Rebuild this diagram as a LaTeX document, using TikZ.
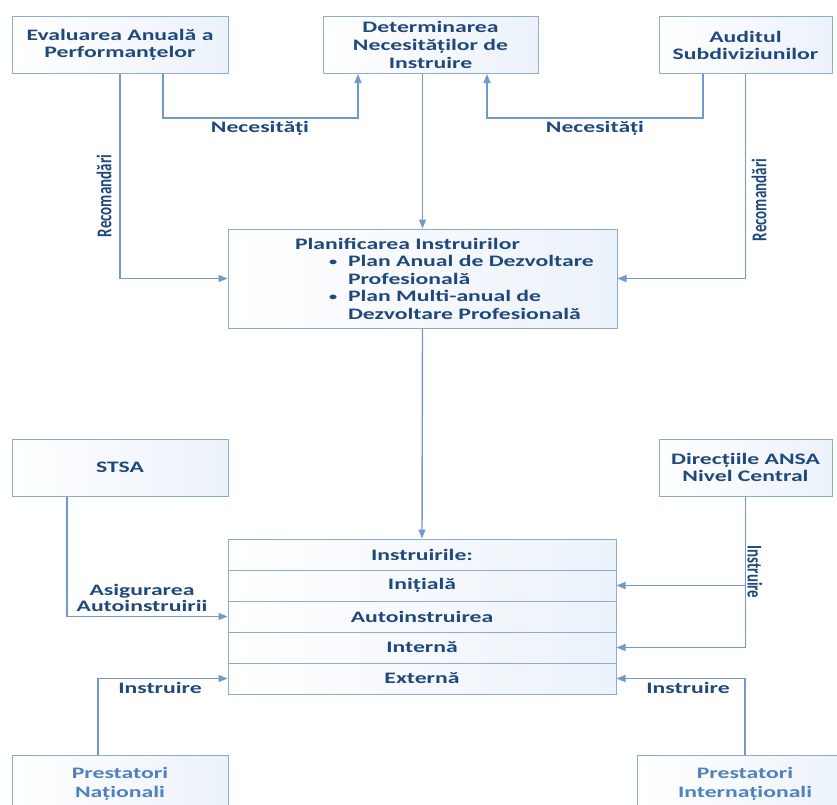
\documentclass[tikz,border=0pt]{standalone}
\usepackage{fontspec}
\setmainfont[FakeStretch=1.48]{Carlito}
\newfontfamily\narrowfont{Carlito}
\usetikzlibrary{arrows.meta}
\definecolor{txtblue}{RGB}{31,73,125}
\definecolor{litblue}{RGB}{79,129,189}
\definecolor{linblue}{RGB}{112,154,204}
\definecolor{boxline}{RGB}{140,172,208}
\definecolor{boxfill}{RGB}{236,242,250}
\newcommand{\planbul}{\makebox[19pt][l]{\raisebox{1pt}{\fontsize{11}{11}\selectfont\textbullet}}}
\begin{document}
\begin{tikzpicture}[x=1pt,y=-1pt,
		box/.style={draw=boxline,line width=1pt,left color=white,right color=boxfill,minimum height=57pt,inner sep=0pt,align=center,text=txtblue,font=\fontsize{16}{17}\selectfont\bfseries},
		rowbox/.style={box,minimum width=388pt,minimum height=31pt},
		lbl/.style={inner sep=0pt,align=center,text=txtblue,font=\fontsize{16}{16}\selectfont\bfseries},
		vlbl/.style={inner sep=0pt,text=txtblue,font=\fontsize{15}{16}\narrowfont\bfseries},
		conn/.style={draw=linblue,line width=1.4pt},
		arr/.style={conn,-{Triangle[length=9pt,width=7pt]}}]
	\clip (0,0) rectangle (837,804);
	% top row
	\node[box,minimum width=216pt] (eval) at (120,45) {Evaluarea Anuală a\\Performanțelor};
	\node[box,minimum width=215pt,font=\fontsize{16}{18}\selectfont\bfseries] (det) at (430.5,45) {Determinarea\\Necesităților de\\Instruire};
	\node[box,minimum width=173pt] (aud) at (745.5,45) {Auditul\\Subdiviziunilor};
	% planning
	\node[box,minimum width=389pt,minimum height=99pt,text width=369pt,align=left,font=\fontsize{16}{17.5}\selectfont\bfseries] (plan) at (422.5,278.5)
		{\hspace*{57pt}Planificarea Instruirilor\\
		 \hspace*{91pt}\planbul Plan Anual de Dezvoltare\\
		 \hspace*{110pt}Profesională\\
		 \hspace*{91pt}\planbul Plan Multi-anual de\\
		 \hspace*{110pt}Dezvoltare Profesională};
	% sources
	\node[box,minimum width=216pt] (stsa) at (120,467.5) {STSA};
	\node[box,minimum width=173pt] (dir) at (745.5,467.5) {Direcțiile ANSA\\Nivel Central};
	\node[box,minimum width=216pt,text=litblue,font=\fontsize{16}{19}\selectfont\bfseries] (prnat) at (120,783.5) {Prestatori\\Naționali};
	\node[box,minimum width=216pt,text=litblue,font=\fontsize{16}{19}\selectfont\bfseries] (print) at (745,783.5) {Prestatori\\Internaționali};
	% types of training
	\node[rowbox] (r1) at (422,554.5) {Instruirile:};
	\node[rowbox] (r2) at (422,585.5) {Inițială};
	\node[rowbox] (r3) at (422,616.5) {Autoinstruirea};
	\node[rowbox] (r4) at (422,647.5) {Internă};
	\node[rowbox] (r5) at (422,678.5) {Externă};
	% connectors
	\draw[arr] ([xshift=43pt]eval.south) -- ++(0,44) -| ([xshift=-72.5pt]det.south);
	\draw[arr] ([xshift=-42.5pt]aud.south) -- ++(0,44) -| ([xshift=56.5pt]det.south);
	\draw[arr] (eval.south) |- (plan.west);
	\draw[arr] (aud.south) |- (plan.east);
	\draw[arr] (plan.north |- det.south) -- (plan.north);
	\draw[arr] (plan.south) -- (r1.north);
	\draw[arr] ([xshift=-53pt]stsa.south) |- (r3.west);
	\draw[arr] (dir.south) |- (r4.east);
	\draw[arr] (dir.south |- r2.east) -- (r2.east);
	\draw[arr] ([xshift=-22pt]prnat.north) |- (r5.west);
	\draw[arr] (print.north) |- (r5.east);
	% labels
	\node[lbl] (nec1) at (260,128) {Necesități};
	\node[lbl] (nec2) at (595,128) {Necesități};
	\node[vlbl,xscale=1.4,rotate=90] (rec1) at (104,196) {Recomandări};
	\node[vlbl,xscale=1.4,rotate=90] (rec2) at (759,200) {Recomandări};
	\node[vlbl,xscale=1.4,rotate=-90] (ins1) at (755,572) {Instruire};
	\node[lbl] (asig) at (142,598) {Asigurarea\\Autoinstruirii};
	\node[lbl] (ins2) at (160,688) {Instruire};
	\node[lbl] (ins3) at (688,688) {Instruire};
\end{tikzpicture}
\end{document}
